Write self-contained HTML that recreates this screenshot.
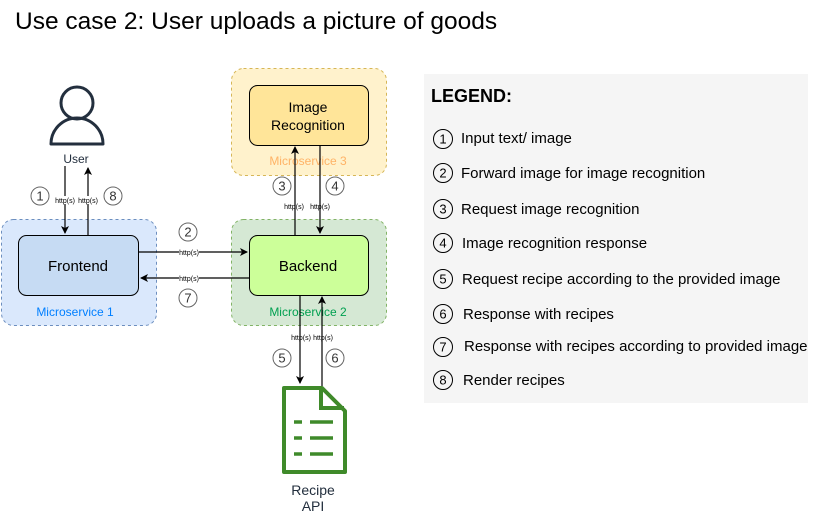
<!DOCTYPE html>
<html><head><meta charset="utf-8"><style>
body{margin:0;background:#fff;}
svg{display:block;font-family:"Liberation Sans",Arial,sans-serif;}
</style></head><body>
<svg width="821" height="515" viewBox="0 0 821 515" xmlns="http://www.w3.org/2000/svg">
<defs>
<marker id="a" markerWidth="8" markerHeight="8" refX="7" refY="4" orient="auto" markerUnits="userSpaceOnUse"><path d="M0,0 L8,4 L0,8 L2,4 Z" fill="#000"/></marker>
</defs>
<text x="15" y="29" font-size="24.5" fill="#000">Use case 2: User uploads a picture of goods</text>

<rect x="1.5" y="219.5" width="155" height="106" rx="12" fill="#dae8fc" stroke="#6c8ebf" stroke-dasharray="3,3"/>
<rect x="231.5" y="219.5" width="155" height="106" rx="12" fill="#d5e8d4" stroke="#82b366" stroke-dasharray="3,3"/>
<rect x="231.5" y="68.5" width="155" height="107" rx="12" fill="#fff2cc" stroke="#d6b656" stroke-dasharray="3,3"/>

<rect x="18.5" y="235.5" width="120" height="60" rx="8" fill="#c6dbf3" stroke="#000"/>
<rect x="249.5" y="235.5" width="119" height="60" rx="8" fill="#ccff99" stroke="#000"/>
<rect x="249.5" y="85.5" width="119" height="60" rx="8" fill="#ffe599" stroke="#000"/>

<text x="78" y="271" font-size="15" text-anchor="middle">Frontend</text>
<text x="308" y="271" font-size="15" text-anchor="middle">Backend</text>
<text x="308" y="112" font-size="14" text-anchor="middle">Image</text>
<text x="308" y="130" font-size="14" text-anchor="middle">Recognition</text>
<text x="75" y="316" font-size="12" fill="#007fff" text-anchor="middle">Microservice 1</text>
<text x="308" y="316" font-size="12" fill="#00a050" text-anchor="middle">Microservice 2</text>
<text x="308" y="165" font-size="12" fill="#ffb366" text-anchor="middle">Microservice 3</text>

<circle cx="77" cy="103" r="16" fill="none" stroke="#232f3e" stroke-width="3"/>
<path d="M51,144 A26,26 0 0 1 103,144 Z" fill="none" stroke="#232f3e" stroke-width="3" stroke-linejoin="round"/>
<text x="76" y="163" font-size="12" fill="#232f3e" text-anchor="middle">User</text>

<g stroke="#000" stroke-width="1.2" fill="none">
<line x1="65" y1="166" x2="65" y2="233" marker-end="url(#a)"/>
<line x1="88" y1="235" x2="88" y2="168" marker-end="url(#a)"/>
<line x1="139" y1="252" x2="247" y2="252" marker-end="url(#a)"/>
<line x1="249" y1="278" x2="141" y2="278" marker-end="url(#a)"/>
<line x1="295" y1="235" x2="295" y2="147" marker-end="url(#a)"/>
<line x1="320" y1="145" x2="320" y2="233" marker-end="url(#a)"/>
<line x1="300" y1="295" x2="300" y2="383" marker-end="url(#a)"/>
<line x1="322" y1="386" x2="322" y2="297" marker-end="url(#a)"/>
</g>
<g font-size="7" text-anchor="middle">
<rect x="55" y="196" width="20" height="8" fill="#fff"/><text x="65" y="203">http(s)</text>
<rect x="78" y="196" width="20" height="8" fill="#fff"/><text x="88" y="203">http(s)</text>
<rect x="179" y="248" width="20" height="8" fill="#fff"/><text x="189" y="255">http(s)</text>
<rect x="179" y="274" width="20" height="8" fill="#fff"/><text x="189" y="281">http(s)</text>
<text x="294" y="209">http(s)</text>
<text x="320" y="209">http(s)</text>
<text x="301" y="340">http(s)</text>
<text x="323" y="340">http(s)</text>
</g>

<g font-size="13" text-anchor="middle" fill="#333">
<g fill="#fff" stroke="#666"><circle cx="40" cy="196" r="9"/><circle cx="113" cy="196" r="9"/><circle cx="188" cy="232" r="9"/><circle cx="188" cy="298" r="9"/><circle cx="282" cy="186" r="9"/><circle cx="335" cy="186" r="9"/><circle cx="282" cy="358" r="9"/><circle cx="335" cy="358" r="9"/></g>
<text x="40" y="200.5">1</text><text x="113" y="200.5">8</text><text x="188" y="236.5">2</text><text x="188" y="302.5">7</text>
<text x="282" y="190.5">3</text><text x="335" y="190.5">4</text><text x="282" y="362.5">5</text><text x="335" y="362.5">6</text>
</g>

<path d="M284,388 L322,388 L345,411 L345,472 L284,472 Z" fill="none" stroke="#3f8a2a" stroke-width="4" stroke-linejoin="round"/>
<path d="M321,388 L321,408 L344,408" fill="none" stroke="#3f8a2a" stroke-width="4"/>
<g stroke="#3f8a2a" stroke-width="3.5">
<line x1="294" y1="422" x2="302" y2="422"/><line x1="310" y1="422" x2="333" y2="422"/>
<line x1="294" y1="438" x2="302" y2="438"/><line x1="310" y1="438" x2="333" y2="438"/>
<line x1="294" y1="454" x2="302" y2="454"/><line x1="310" y1="454" x2="333" y2="454"/>
</g>
<text x="313" y="495" font-size="14" fill="#232f3e" text-anchor="middle">Recipe</text>
<text x="313" y="511" font-size="14" fill="#232f3e" text-anchor="middle">API</text>

<rect x="424" y="74" width="384" height="329" fill="#f5f5f5"/>
<text x="431" y="102" font-size="18" font-weight="bold">LEGEND:</text>
<g font-size="15">
<g fill="none" stroke="#000"><circle cx="443" cy="139" r="9.5"/><circle cx="443" cy="173" r="9.5"/><circle cx="443" cy="209" r="9.5"/><circle cx="443" cy="243" r="9.5"/><circle cx="443" cy="279" r="9.5"/><circle cx="443" cy="314" r="9.5"/><circle cx="443" cy="347" r="9.5"/><circle cx="443" cy="380" r="9.5"/></g>
<g font-size="13" text-anchor="middle"><text x="443" y="143.5">1</text><text x="443" y="177.5">2</text><text x="443" y="213.5">3</text><text x="443" y="247.5">4</text><text x="443" y="283.5">5</text><text x="443" y="318.5">6</text><text x="443" y="351.5">7</text><text x="443" y="384.5">8</text></g>
<text x="461" y="143">Input text/ image</text>
<text x="461" y="178">Forward image for image recognition</text>
<text x="461" y="214">Request image recognition</text>
<text x="462" y="248">Image recognition response</text>
<text x="462" y="284">Request recipe according to the provided image</text>
<text x="463" y="319">Response with recipes</text>
<text x="464" y="351">Response with recipes according to provided image</text>
<text x="463" y="385">Render recipes</text>
</g>
</svg>
</body></html>
